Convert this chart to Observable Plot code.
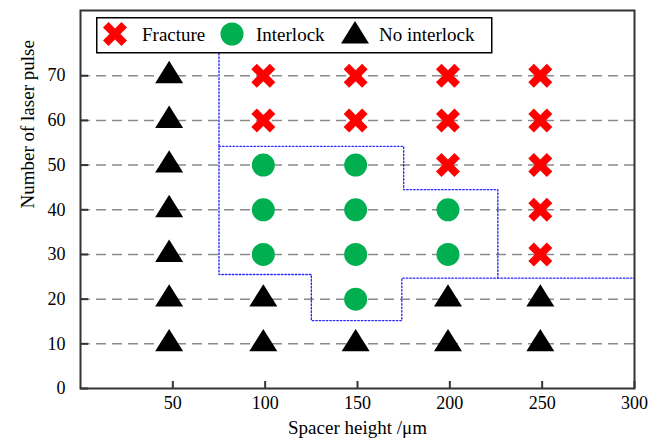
<!DOCTYPE html>
<html>
<head>
<meta charset="utf-8">
<script src="https://cdn.jsdelivr.net/npm/d3@7"></script>
<script src="https://cdn.jsdelivr.net/npm/@observablehq/plot@0.6"></script>
<style>
  html, body { margin: 0; padding: 0; background: #fff; }
  #wrap { position: relative; width: 662px; height: 445px; font-family: "Liberation Serif", serif; }
  #wrap svg, #wrap text { font-family: "Liberation Serif", serif !important; }
  #legend { position: absolute; left: 96px; top: 17px; }
</style>
</head>
<body>
<div id="wrap"></div>
<script>
// ---- data ----
const xTicks = [50, 100, 150, 200, 250, 300];
const yTicks = [0, 10, 20, 30, 40, 50, 60, 70];
const gridY = [10, 20, 30, 40, 50, 60, 70];

const fractureX = [99, 99, 149, 149, 199, 199, 199, 249, 249, 249, 249, 249];
const fractureY = [60, 70, 60, 70, 50, 60, 70, 30, 40, 50, 60, 70];

const interlockX = [99, 99, 99, 149, 149, 149, 149, 199, 199];
const interlockY = [30, 40, 50, 20, 30, 40, 50, 30, 40];

const noInterlockX = [48, 48, 48, 48, 48, 48, 48, 99, 99, 149, 199, 199, 249, 249];
const noInterlockY = [10, 20, 30, 40, 50, 60, 70, 10, 20, 10, 10, 20, 10, 20];

// dotted boundary lines
const outerBoundX = [75, 75, 125, 125, 174, 174, 300];
const outerBoundY = [75, 25.5, 25.5, 15.2, 15.2, 24.7, 24.7];
const innerBoundX = [75, 175, 175, 226, 226];
const innerBoundY = [54.2, 54.2, 44.5, 44.5, 24.7];

const legendLabels = ["Fracture", "Interlock", "No interlock"];

// ---- styles ----
const RED = "#ff0000", GREEN = "#00b050", BLACK = "#000000", BLUE = "#2a2aff";
const FONT = "\"Liberation Serif\", serif";

// custom symbols
const crossSymbol = {
  draw(ctx, size) {
    const s = Math.sqrt(size / Math.PI);
    const k = s * 0.46;
    ctx.moveTo(-s, -s + k);
    ctx.lineTo(-s + k, -s);
    ctx.lineTo(0, -k);
    ctx.lineTo(s - k, -s);
    ctx.lineTo(s, -s + k);
    ctx.lineTo(k, 0);
    ctx.lineTo(s, s - k);
    ctx.lineTo(s - k, s);
    ctx.lineTo(0, k);
    ctx.lineTo(-s + k, s);
    ctx.lineTo(-s, s - k);
    ctx.lineTo(-k, 0);
    ctx.closePath();
  }
};
const triSymbol = {
  draw(ctx, size) {
    const w = Math.sqrt(size / Math.PI);
    const h = w * 1.6;
    ctx.moveTo(0, -h * 2 / 3);
    ctx.lineTo(w, h / 3);
    ctx.lineTo(-w, h / 3);
    ctx.closePath();
  }
};

const fracture = fractureX.map((x, i) => ({x, y: fractureY[i]}));
const interlock = interlockX.map((x, i) => ({x, y: interlockY[i]}));
const noInterlock = noInterlockX.map((x, i) => ({x, y: noInterlockY[i]}));
const outerBound = outerBoundX.map((x, i) => ({x, y: outerBoundY[i]}));
const innerBound = innerBoundX.map((x, i) => ({x, y: innerBoundY[i]}));

const chart = Plot.plot({
  width: 662,
  height: 445,
  marginLeft: 80,
  marginRight: 28,
  marginTop: 10,
  marginBottom: 57,
  style: {fontFamily: FONT, fontSize: "18px", color: "#000", background: "#fff"},
  x: {domain: [0, 300]},
  y: {domain: [0, 84.6]},
  marks: [
    Plot.ruleY(gridY, {stroke: "#8a8a8a", strokeWidth: 1.5, strokeDasharray: "10,6"}),
    Plot.line(outerBound, {x: "x", y: "y", stroke: BLUE, strokeWidth: 1.4, strokeDasharray: "1.5,2"}),
    Plot.line(innerBound, {x: "x", y: "y", stroke: BLUE, strokeWidth: 1.4, strokeDasharray: "1.5,2"}),
    Plot.dot(noInterlock, {x: "x", y: "y", symbol: triSymbol, r: 14, fill: BLACK, stroke: "none"}),
    Plot.dot(interlock, {x: "x", y: "y", symbol: "circle", r: 11.5, fill: GREEN, stroke: "none"}),
    Plot.dot(fracture, {x: "x", y: "y", symbol: crossSymbol, r: 12, fill: RED, stroke: "none"}),
    Plot.axisX({ticks: xTicks, tickSize: -7, tickPadding: 15, fontSize: 18, fontFamily: FONT, stroke: "#333", strokeWidth: 2, label: null}),
    Plot.axisY({ticks: yTicks, tickSize: -8, tickPadding: 23, fontSize: 18, fontFamily: FONT, stroke: "#333", strokeWidth: 2, label: null}),
    Plot.frame({stroke: "#333", strokeWidth: 2}),
    Plot.text(["Spacer height /\u03bcm"], {frameAnchor: "bottom", dy: 45, fontSize: 19, fontFamily: FONT, fill: "#000"}),
    Plot.text(["Number of laser pulse"], {frameAnchor: "left", rotate: -90, dx: -53, dy: 9, fontSize: 19, fontFamily: FONT, fill: "#000"})
  ]
});

const wrap = document.getElementById("wrap");
wrap.appendChild(chart);

// legend (drawn inside the plot area, as in the reference)
const lg = d3.select(wrap).append("svg")
  .attr("id", "legend")
  .attr("width", 397).attr("height", 37)
  .attr("font-family", FONT).attr("font-size", 19);
lg.append("rect").attr("x", 0.75).attr("y", 0.75).attr("width", 395).attr("height", 35)
  .attr("fill", "#fff").attr("stroke", "#000").attr("stroke-width", 1.5);
const symPath = (sym, r) => { const p = d3.path(); sym.draw(p, r * r * Math.PI); return p.toString(); };
const items = [
  {sx: 19, sy: 17, d: symPath(crossSymbol, 12), fill: RED, tx: 46},
  {sx: 136, sy: 17, d: symPath(d3.symbolCircle, 11.5), fill: GREEN, tx: 160},
  {sx: 259, sy: 19, d: symPath(triSymbol, 14), fill: BLACK, tx: 283}
];
items.forEach((it, i) => {
  lg.append("path").attr("d", it.d).attr("transform", `translate(${it.sx},${it.sy})`).attr("fill", it.fill);
  lg.append("text").attr("x", it.tx).attr("y", 24).attr("fill", "#000").text(legendLabels[i]);
});
</script>
</body>
</html>
